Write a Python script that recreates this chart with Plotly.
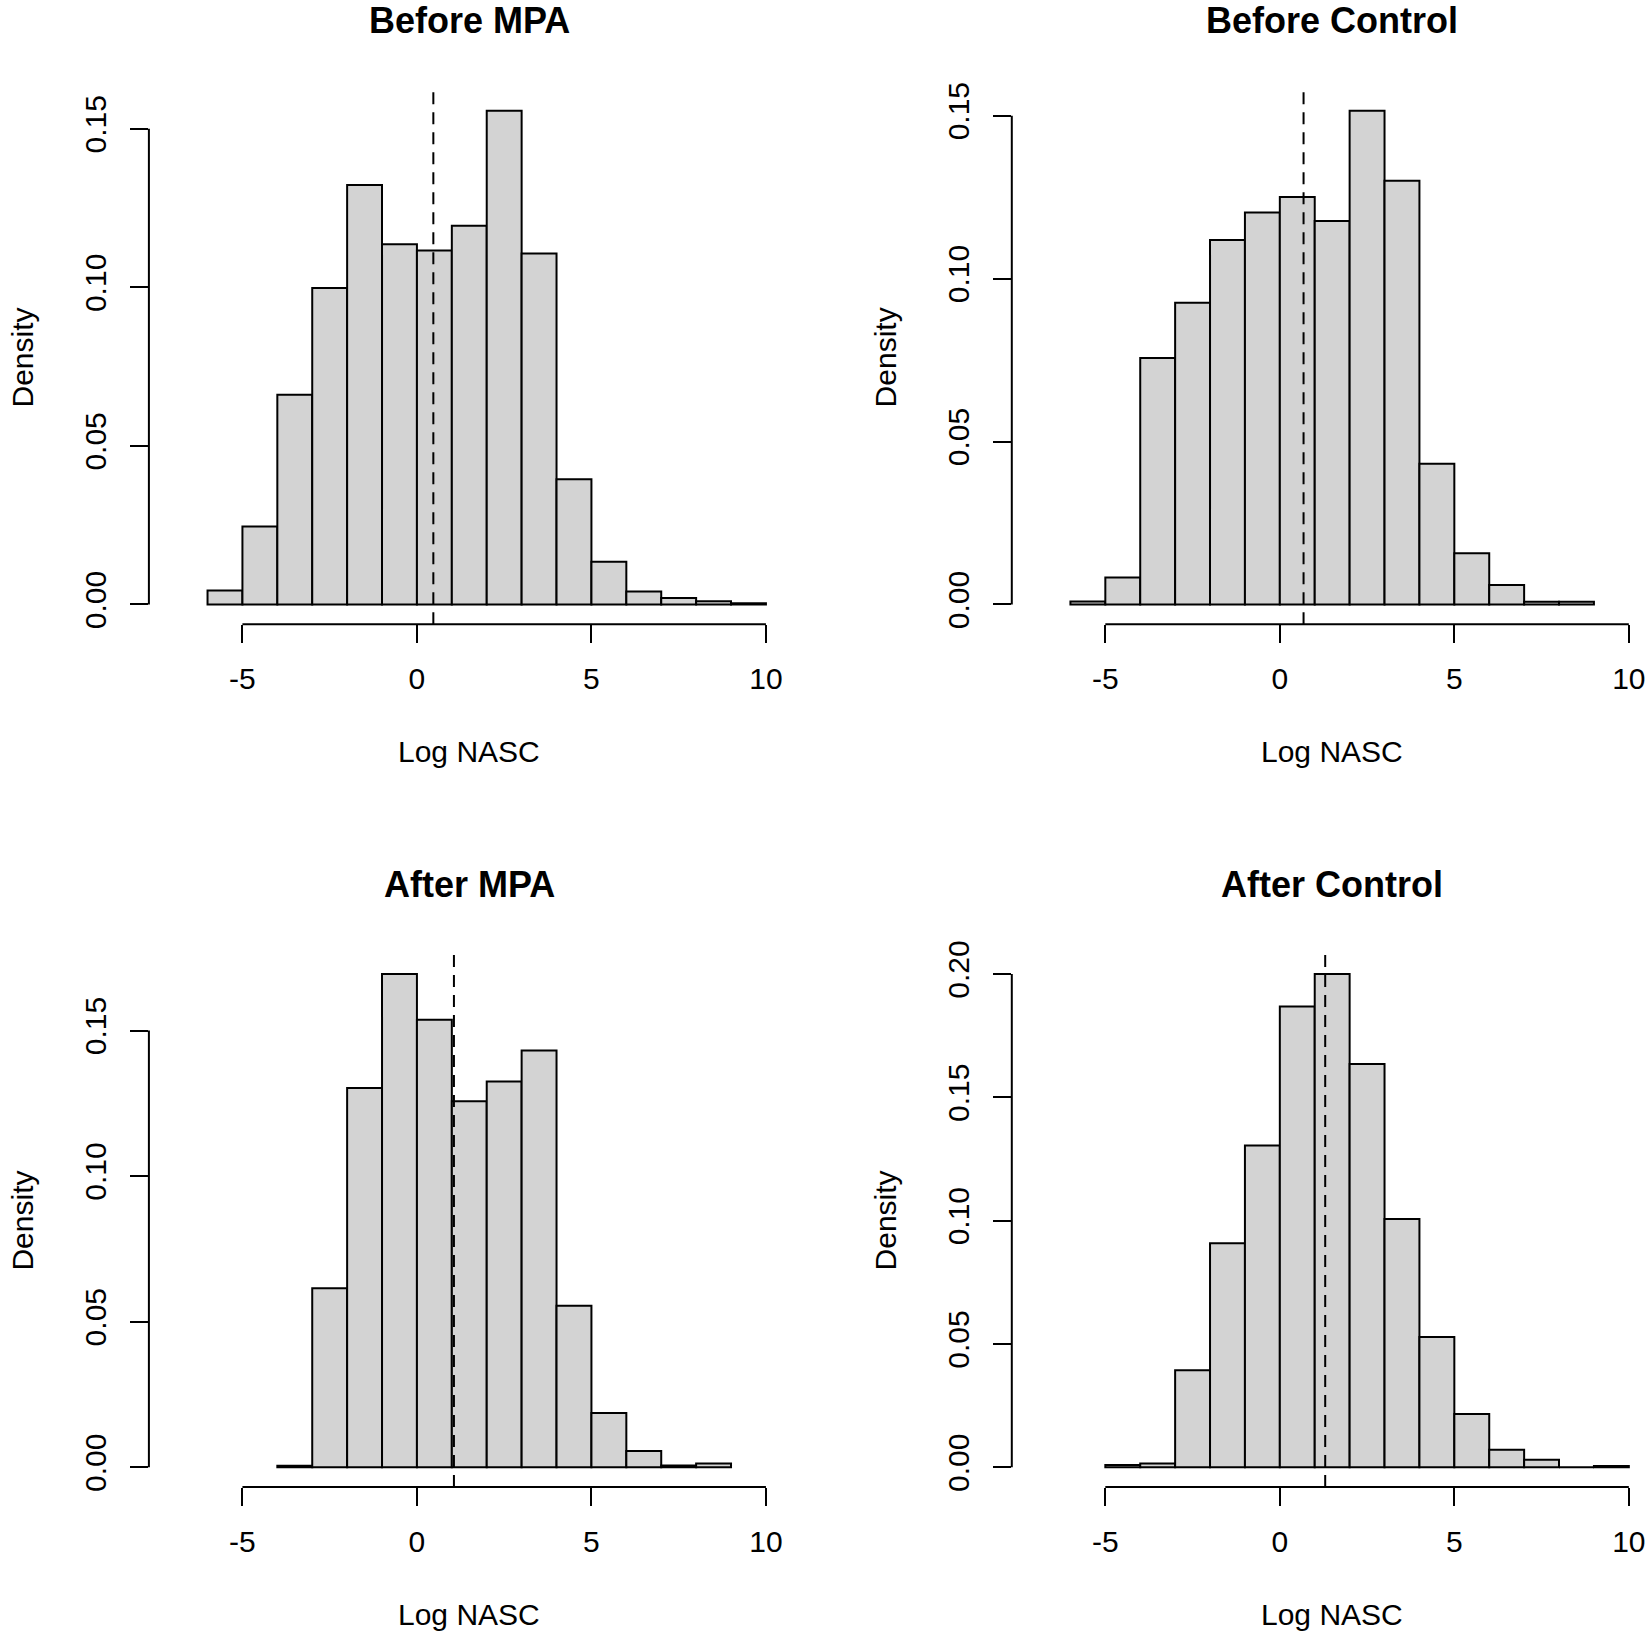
import plotly.graph_objects as go

# ---------------- data ----------------
titles = ["Before MPA", "Before Control", "After MPA", "After Control"]

bins_before_mpa = [-6, -5, -4, -3, -2, -1, 0, 1, 2, 3, 4, 5, 6, 7, 8, 9]
dens_before_mpa = [0.0044, 0.0246, 0.0661, 0.0998, 0.1323, 0.1136, 0.1116, 0.1194,
                   0.1557, 0.1107, 0.0395, 0.0135, 0.0041, 0.0020, 0.0010, 0.0004]

bins_before_control = [-6, -5, -4, -3, -2, -1, 0, 1, 2, 3, 4, 5, 6, 7, 8]
dens_before_control = [0.0009, 0.0083, 0.0756, 0.0926, 0.1118, 0.1203, 0.1250, 0.1177,
                       0.1515, 0.1300, 0.0432, 0.0157, 0.0060, 0.0008, 0.0008]

bins_after_mpa = [-4, -3, -2, -1, 0, 1, 2, 3, 4, 5, 6, 7, 8]
dens_after_mpa = [0.0005, 0.0615, 0.1303, 0.1694, 0.1537, 0.1257, 0.1325, 0.1431,
                  0.0555, 0.0186, 0.0056, 0.0006, 0.0013]

bins_after_control = [-5, -4, -3, -2, -1, 0, 1, 2, 3, 4, 5, 6, 7, 8, 9]
dens_after_control = [0.0009, 0.0015, 0.0393, 0.0908, 0.1305, 0.1868, 0.2000, 0.1635,
                      0.1007, 0.0528, 0.0216, 0.0071, 0.0030, 0.0000, 0.0005]

means = [0.47, 0.68, 1.06, 1.30]

x_ticks = [-5, 0, 5, 10]
y_ticks_a = [0.00, 0.05, 0.10, 0.15]
y_ticks_b = [0.00, 0.05, 0.10, 0.15, 0.20]
y_labels_a = ["0.00", "0.05", "0.10", "0.15"]
y_labels_b = ["0.00", "0.05", "0.10", "0.15", "0.20"]

x_title = "Log NASC"
y_title = "Density"

# ---------------- layout geometry ----------------
W, H = 1650, 1638
FONT = "Liberation Sans, Arial, Helvetica, sans-serif"
FS = 30
XR = [-7.68, 10.6]          # plotted x range (R usr-like)
PX_PER_UNIT = 34.9
col_left = [148.9, 1011.8]  # px of y-axis line
row_top = [91.0, 954.3]     # px of plot region top
row_bot = [624.2, 1487.0]   # px of plot region bottom (x-axis line)

panels = [
    (bins_before_mpa, dens_before_mpa, y_ticks_a, y_labels_a),
    (bins_before_control, dens_before_control, y_ticks_a, y_labels_a),
    (bins_after_mpa, dens_after_mpa, y_ticks_a, y_labels_a),
    (bins_after_control, dens_after_control, y_ticks_b, y_labels_b),
]

fig = go.Figure()
annotations = []
shapes = []

for i, (bins, dens, yt, yl) in enumerate(panels):
    r, c = divmod(i, 2)
    n = i + 1
    xa = "xaxis" if n == 1 else f"xaxis{n}"
    ya = "yaxis" if n == 1 else f"yaxis{n}"
    xr = "x" if n == 1 else f"x{n}"
    yr = "y" if n == 1 else f"y{n}"

    left = col_left[c]
    right = left + (XR[1] - XR[0]) * PX_PER_UNIT
    xdom = [left / W, min(right / W, 1.0)]
    ydom = [1 - row_bot[r] / H, 1 - row_top[r] / H]
    ymax = max(dens)
    yrange = [-0.04 * ymax, 1.04 * ymax]

    fig.add_trace(go.Bar(
        x=bins, y=dens, width=1, offset=0,
        marker=dict(color="#D3D3D3", line=dict(color="black", width=2)),
        xaxis=xr, yaxis=yr, showlegend=False, hoverinfo="skip",
    ))

    fig.update_layout(**{
        xa: dict(domain=xdom, range=XR, anchor=yr, showgrid=False, zeroline=False,
                 showline=False, ticks="outside", ticklen=18, tickwidth=2,
                 tickcolor="black", tickvals=x_ticks, ticktext=[str(v) for v in x_ticks],
                 tickfont=dict(family=FONT, size=FS, color="black"),
                 ticklabelstandoff=10, fixedrange=True, automargin=False),
        ya: dict(domain=ydom, range=yrange, anchor=xr, showgrid=False, zeroline=False,
                 showline=False, ticks="outside", ticklen=18, tickwidth=2,
                 tickcolor="black", tickvals=yt, ticktext=yl, tickangle=-90,
                 tickfont=dict(family=FONT, size=FS, color="black"),
                 ticklabelstandoff=12, fixedrange=True, automargin=False),
    })

    # axis lines spanning first..last tick (R style)
    shapes.append(dict(type="line", xref=xr, yref=f"{yr} domain",
                       x0=min(x_ticks), x1=max(x_ticks), y0=0, y1=0,
                       line=dict(color="black", width=2)))
    shapes.append(dict(type="line", xref=f"{xr} domain", yref=yr,
                       x0=0, x1=0, y0=min(yt), y1=max(yt),
                       line=dict(color="black", width=2)))
    # mean line
    shapes.append(dict(type="line", xref=xr, yref=f"{yr} domain",
                       x0=means[i], x1=means[i], y0=0, y1=1,
                       line=dict(color="black", width=2, dash="12px,8px")))

    # titles
    cx = (left + left + (10.68 + 7.68) * PX_PER_UNIT) / 2 / W
    annotations.append(dict(text=f"<b>{titles[i]}</b>", xref="paper", yref="paper",
                            x=cx, y=1 - (row_top[r] - 70) / H, showarrow=False,
                            xanchor="center", yanchor="middle",
                            font=dict(family=FONT, size=36, color="black")))
    annotations.append(dict(text=x_title, xref="paper", yref="paper",
                            x=cx, y=1 - (row_bot[r] + 127) / H, showarrow=False,
                            xanchor="center", yanchor="middle",
                            font=dict(family=FONT, size=FS, color="black")))
    annotations.append(dict(text=y_title, xref="paper", yref="paper",
                            x=(left - 126) / W, y=1 - (row_top[r] + row_bot[r]) / 2 / H,
                            showarrow=False, textangle=-90,
                            xanchor="center", yanchor="middle",
                            font=dict(family=FONT, size=FS, color="black")))

fig.update_layout(
    width=W, height=H,
    margin=dict(l=0, r=0, t=0, b=0, autoexpand=False),
    paper_bgcolor="white", plot_bgcolor="white",
    bargap=0, showlegend=False,
    annotations=annotations, shapes=shapes,
)

fig.write_html(
    "out.html",
    config={"displayModeBar": False, "staticPlot": True},
    post_script="document.body.style.margin='0';document.body.style.overflow='hidden';"
                "document.documentElement.style.overflow='hidden';",
)
